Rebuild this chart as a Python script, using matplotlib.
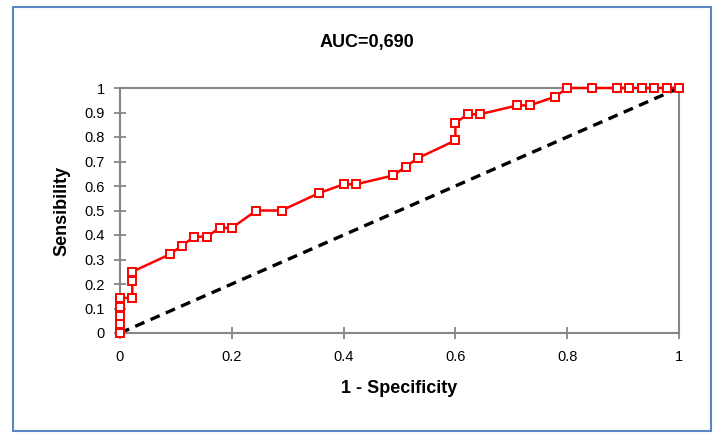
import matplotlib
matplotlib.use("Agg")
import matplotlib.pyplot as plt
from matplotlib.patches import Rectangle

title = "AUC=0,690"
x_label = "1 - Specificity"
y_label = "Sensibility"

fpr = [0.0, 0.0, 0.0, 0.0, 0.0, 0.022, 0.022, 0.022, 0.089, 0.111, 0.133, 0.156,
       0.178, 0.2, 0.244, 0.289, 0.356, 0.4, 0.422, 0.489, 0.511, 0.533, 0.6, 0.6,
       0.622, 0.644, 0.711, 0.733, 0.778, 0.8, 0.844, 0.889, 0.911, 0.933, 0.956,
       0.978, 1.0]
tpr = [0.0, 0.036, 0.071, 0.107, 0.143, 0.143, 0.214, 0.25, 0.321, 0.357, 0.393, 0.393,
       0.429, 0.429, 0.5, 0.5, 0.571, 0.607, 0.607, 0.643, 0.679, 0.714, 0.786, 0.857,
       0.893, 0.893, 0.929, 0.929, 0.964, 1.0, 1.0, 1.0, 1.0, 1.0, 1.0,
       1.0, 1.0]
diag = [0.0, 1.0]
xticks = [0, 0.2, 0.4, 0.6, 0.8, 1]
xtick_labels = ["0", "0.2", "0.4", "0.6", "0.8", "1"]
yticks = [0, 0.1, 0.2, 0.3, 0.4, 0.5, 0.6, 0.7, 0.8, 0.9, 1]
ytick_labels = ["0", "0.1", "0.2", "0.3", "0.4", "0.5", "0.6", "0.7", "0.8", "0.9", "1"]

plt.rcParams['font.family'] = ['Liberation Sans', 'DejaVu Sans']

fig = plt.figure(figsize=(7.17, 4.33), dpi=100)
fig.patches.append(Rectangle((12.5/717, 1 - 431/433), 698/717, 424/433,
                             transform=fig.transFigure, fill=False,
                             edgecolor='#5a86c5', linewidth=1.5))
ax = fig.add_axes([120/717, 1 - 333/433, 559/717, 245/433])

ax.plot(diag, diag, color='black', linestyle=(0, (3, 2)), linewidth=2.4, zorder=2)
ax.plot(fpr, tpr, color='#ff0000', linewidth=1.8, marker='s', markersize=6,
        markerfacecolor='white', markeredgecolor='#ff0000', markeredgewidth=1.4,
        zorder=3, clip_on=False)

ax.set_xlim(0, 1)
ax.set_ylim(0, 1)
ax.set_xticks(xticks)
ax.set_xticklabels(xtick_labels)
ax.set_yticks(yticks)
ax.set_yticklabels(ytick_labels)
for s in ax.spines.values():
    s.set_color('#868686')
    s.set_linewidth(1.5)
ax.tick_params(axis='x', direction='inout', length=8, width=1.3, color='#868686',
               labelsize=10.5, pad=8)
ax.tick_params(axis='y', direction='inout', length=8, width=1.3, color='#868686',
               labelsize=10.5, pad=7)

ax.set_xlabel(x_label, fontsize=13, fontweight='bold', labelpad=12)
ax.set_ylabel(y_label, fontsize=13, fontweight='bold', labelpad=10)
fig.text(367/717, 1 - 42/433, title, fontsize=13, fontweight='bold',
         ha='center', va='center')

fig.savefig("out.png", dpi=100)
